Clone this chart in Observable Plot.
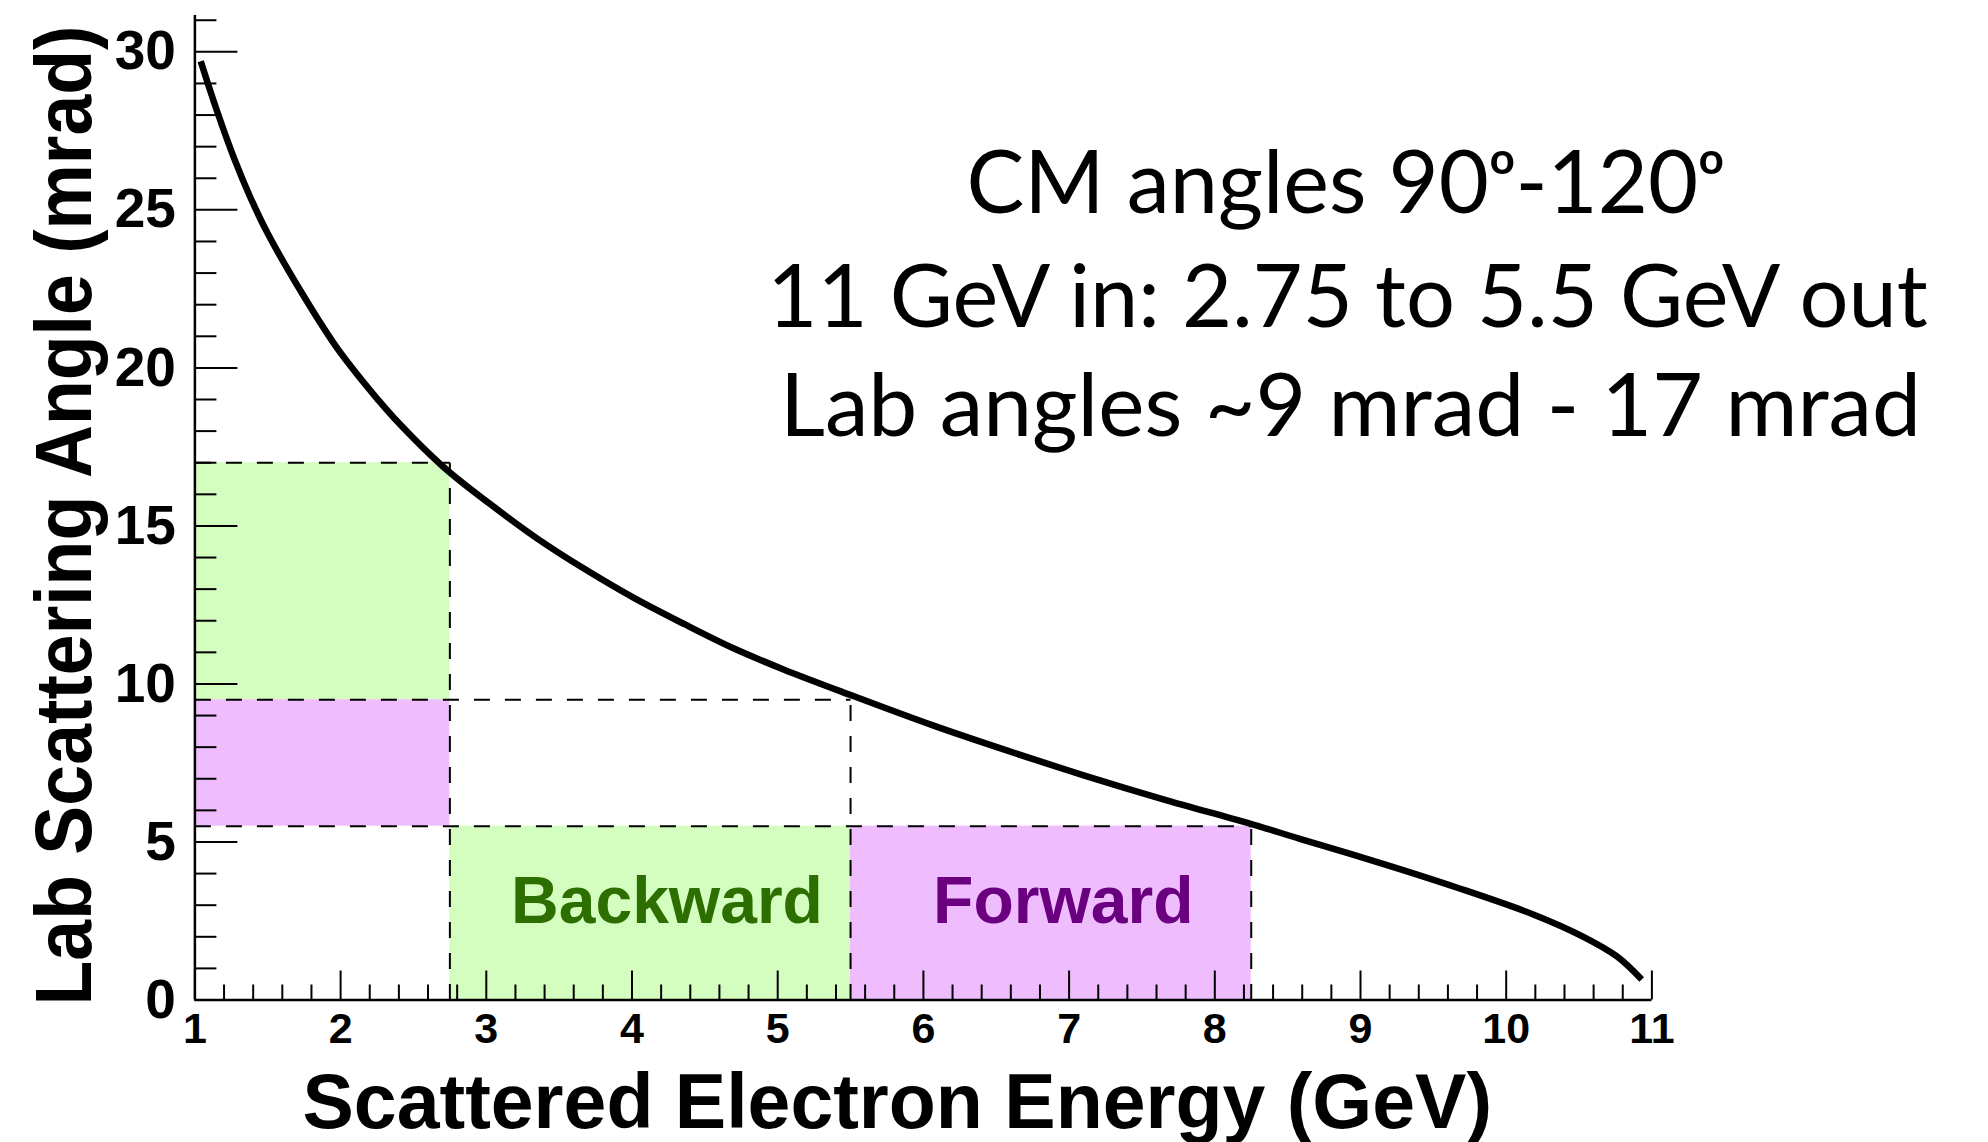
<!DOCTYPE html>
<html>
<head>
<meta charset="utf-8">
<script src="https://cdn.jsdelivr.net/npm/d3@7"></script>
<script src="https://cdn.jsdelivr.net/npm/@observablehq/plot@0.6"></script>
<style>
  html, body { margin: 0; padding: 0; background: #ffffff; }
</style>
</head>
<body>
<div id="chart"></div>
<script>
// ---- Data ----
const energy = [1.04, 1.15, 1.27, 1.38, 1.50, 1.73, 1.95, 2.07, 2.25, 2.37, 2.71, 3.03, 3.35, 3.67, 4.01, 4.36, 4.70, 5.04, 5.50, 6.07, 6.53, 7.10, 7.67, 8.23, 8.59, 9.16, 9.66, 10.19, 10.53, 10.76, 10.93];
const angle  = [29.70, 28.15, 26.62, 25.40, 24.25, 22.40, 20.80, 20.05, 19.03, 18.40, 16.85, 15.68, 14.60, 13.65, 12.73, 11.89, 11.12, 10.46, 9.65, 8.68, 7.96, 7.11, 6.32, 5.60, 5.09, 4.30, 3.56, 2.70, 2.00, 1.38, 0.65];

const regionX1 = [1, 1, 2.75, 5.5];
const regionX2 = [2.75, 2.75, 5.5, 8.25];
const regionY1 = [9.5, 5.5, 0, 0];
const regionY2 = [17, 9.5, 5.5, 5.5];
const regionColor = ["#d4fdc0", "#efbdfd", "#d4fdc0", "#efbdfd"];

const guideX1 = [1, 2.75, 1, 5.5, 1, 8.25];
const guideY1 = [17, 0, 9.5, 0, 5.5, 0];
const guideX2 = [2.75, 2.75, 5.5, 5.5, 8.25, 8.25];
const guideY2 = [17, 17, 9.5, 9.5, 5.5, 5.5];

const labelText = ["Backward", "Forward"];
const labelX = [4.24, 6.96];
const labelY = [2.45, 2.45];
const labelColor = ["#2d6e00", "#6a0080"];

const xTickValues = [1, 2, 3, 4, 5, 6, 7, 8, 9, 10, 11];
const xTickLabels = ["1", "2", "3", "4", "5", "6", "7", "8", "9", "10", "11"];
const yTickValues = [0, 5, 10, 15, 20, 25, 30];
const yTickLabels = ["0", "5", "10", "15", "20", "25", "30"];

const xTitle = "Scattered Electron Energy (GeV)";
const yTitle = "Lab Scattering Angle (mrad)";
const noteLines = ["CM angles 90ᵒ-120ᵒ", "11 GeV in: 2.75 to 5.5 GeV out", "Lab angles ~9 mrad - 17 mrad"];

// ---- Build tables ----
const curve = energy.map((e, i) => ({e, a: angle[i]}));
const regions = regionX1.map((x1, i) => ({x1, x2: regionX2[i], y1: regionY1[i], y2: regionY2[i], fill: regionColor[i]}));
const guides = guideX1.map((x1, i) => ({x1, y1: guideY1[i], x2: guideX2[i], y2: guideY2[i]}));
const labels = labelText.map((t, i) => ({t, x: labelX[i], y: labelY[i], c: labelColor[i]}));
const xMinor = d3.range(1, 11.0001, 0.2).map(v => Math.round(v * 10) / 10).filter(v => !xTickValues.includes(v));
const yMinor = d3.range(0, 32, 1).filter(v => !yTickValues.includes(v) && v <= 31);

// ---- Layout ----
const W = 1988, H = 1142;
const mL = 194.4, mR = W - 1651.4, mT = 15, mB = H - 999.5;
const yTop = 31.15;
const pxX = (W - mL - mR) / 10;
const pxY = (H - mT - mB) / yTop;

const font = "'Liberation Sans', Arial, Helvetica, sans-serif";
const noteFont = "Lato, 'Open Sans', sans-serif";

const chart = Plot.plot({
  width: W,
  height: H,
  marginLeft: mL,
  marginRight: mR,
  marginTop: mT,
  marginBottom: mB,
  style: {fontFamily: font, background: "#ffffff", color: "#000000", overflow: "visible"},
  x: {domain: [1, 11], axis: null},
  y: {domain: [0, yTop], axis: null},
  marks: [
    Plot.rect(regions, {x1: "x1", x2: "x2", y1: "y1", y2: "y2", fill: "fill"}),
    Plot.link(guides, {x1: "x1", y1: "y1", x2: "x2", y2: "y2", stroke: "#000", strokeWidth: 2, strokeDasharray: "16,15"}),
    // ticks pointing inward
    Plot.ruleX(xTickValues, {x: d => d, y1: 0, y2: 29 / pxY, stroke: "#000", strokeWidth: 2}),
    Plot.ruleX(xMinor, {x: d => d, y1: 0, y2: 15 / pxY, stroke: "#000", strokeWidth: 2}),
    Plot.ruleY(yTickValues, {y: d => d, x1: 1, x2: 1 + 43 / pxX, stroke: "#000", strokeWidth: 2}),
    Plot.ruleY(yMinor, {y: d => d, x1: 1, x2: 1 + 22 / pxX, stroke: "#000", strokeWidth: 2}),
    // axis lines
    Plot.ruleX([1], {y1: 0, y2: yTop, stroke: "#000", strokeWidth: 2.5}),
    Plot.ruleY([0], {x1: 1, x2: 11, stroke: "#000", strokeWidth: 2.5}),
    // curve
    Plot.line(curve, {x: "e", y: "a", stroke: "#000", strokeWidth: 6.5, curve: "catmull-rom", strokeLinecap: "butt"}),
    // region labels
    Plot.text(labels, {x: "x", y: "y", text: "t", fill: "c", fontSize: 66, fontWeight: "bold", lineAnchor: "bottom", textAnchor: "middle"}),
    // tick labels
    Plot.text(yTickValues, {x: 1, y: d => d, text: (d, i) => yTickLabels[i], textAnchor: "end", dx: -19, fontSize: 55, fontWeight: "bold", fill: "#000"}),
    Plot.text(xTickValues, {x: d => d, y: 0, text: (d, i) => xTickLabels[i], lineAnchor: "top", dy: 12, fontSize: 43, fontWeight: "bold", fill: "#000"}),
    // axis titles
    Plot.text([xTitle], {frameAnchor: "bottom-left", textAnchor: "start", lineAnchor: "bottom", dx: 302 - mL, dy: 1127 - (H - mB), fontSize: 77, fontWeight: "bold", fill: "#000"}),
    Plot.text([yTitle], {frameAnchor: "left", rotate: -90, textAnchor: "middle", lineAnchor: "bottom", dx: 91 - mL, dy: 515 - (mT + H - mB) / 2, fontSize: 79, fontWeight: "bold", fill: "#000"}),
    // annotation
    Plot.text([noteLines[0]], {frameAnchor: "top-left", textAnchor: "middle", lineAnchor: "bottom", dx: 1345 - mL, dy: 212 - mT, fontSize: 86.5, fontFamily: noteFont, fill: "#000"}),
    Plot.text([noteLines[1]], {frameAnchor: "top-left", textAnchor: "middle", lineAnchor: "bottom", dx: 1347 - mL, dy: 326 - mT, fontSize: 86.5, fontFamily: noteFont, fill: "#000"}),
    Plot.text([noteLines[2]], {frameAnchor: "top-left", textAnchor: "middle", lineAnchor: "bottom", dx: 1350 - mL, dy: 435 - mT, fontSize: 87.5, fontFamily: noteFont, fill: "#000"})
  ]
});

d3.select(chart).selectAll("text")
  .filter(function () { return this.textContent === yTitle; })
  .attr("textLength", 980)
  .attr("lengthAdjust", "spacingAndGlyphs");

document.getElementById("chart").appendChild(chart);
</script>
</body>
</html>
